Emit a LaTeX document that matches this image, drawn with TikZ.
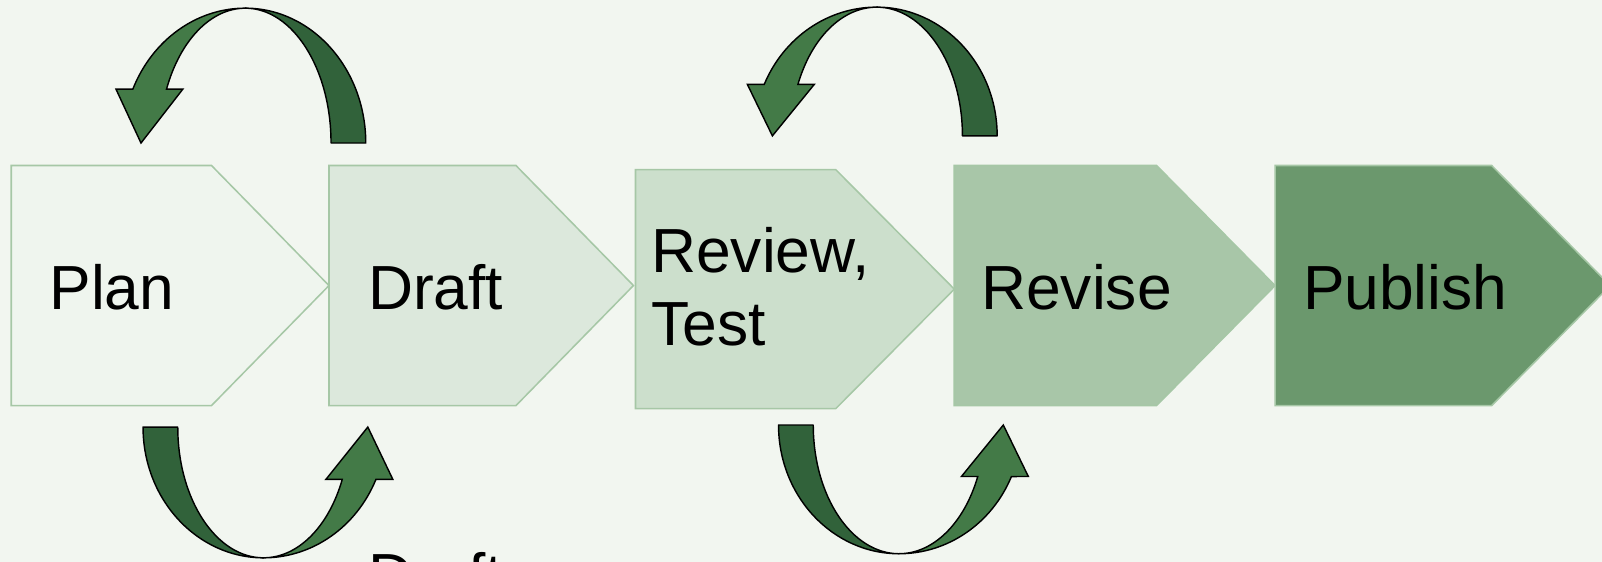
\documentclass[tikz,border=0pt]{standalone}
\usepackage{fontspec}
\setmainfont{Liberation Sans}
\usetikzlibrary{positioning}
\definecolor{pageBg}{HTML}{F2F6F0}
\definecolor{stepEdge}{HTML}{A6C7A6}
\definecolor{planFill}{HTML}{EFF5EE}
\definecolor{draftFill}{HTML}{DCE8DC}
\definecolor{reviewFill}{HTML}{CCDFCC}
\definecolor{reviseFill}{HTML}{A8C6A8}
\definecolor{publishFill}{HTML}{6B986D}
\definecolor{loopDark}{HTML}{31623A}
\definecolor{loopLight}{HTML}{437A47}
\tikzset{
    stepShape/.style={draw=stepEdge, line width=0.75pt, line join=miter},
    stepText/.style={anchor=base west, inner sep=0pt, align=left, font=\fontsize{30.5}{35.5}\selectfont},
    loopBack/.style={draw=black, fill=loopDark, line width=0.7pt, line join=round},
    loopFront/.style={draw=black, fill=loopLight, line width=0.7pt, line join=miter},
}
% chevron: fill, left, shoulder, tip, top, bottom
\newcommand{\drawStep}[6]{
    \draw[stepShape, fill=#1] (#2,#5) -- (#3,#5) -- (#4,{(#5+#6)/2}) -- (#3,#6) -- (#2,#6) -- cycle;
}
% curved loop arrow: centre x, centre y, height, rotation
\newcommand{\drawLoop}[4]{
    \begin{scope}[shift={(#1,#2)}, rotate=#4]
        % tail half
        \draw[loopBack] (0,#3) arc[start angle=90, end angle=0, x radius=118, y radius=#3]
            -- (84,0) arc[start angle=0, end angle=90, x radius=84, y radius=#3] -- cycle;
        % head half
        \draw[loopFront] (0,#3) arc[start angle=90, end angle=156.4, x radius=120, y radius=#3]
            -- (-126.5,{0.4*#3}) -- (-102,0) -- (-61,{0.4*#3}) -- (-77,{0.4*#3})
            arc[start angle=156.4, end angle=90, x radius=84, y radius=#3] -- cycle;
    \end{scope}
}

\begin{document}
\begin{tikzpicture}[x=0.5pt, y=0.5pt]

    \fill[pageBg] (0,0) rectangle (1568,550);
    \useasboundingbox (0,0) rectangle (1568,550);

    \drawStep{planFill}{11}{207}{322}{388}{153}
    \drawStep{draftFill}{322}{505}{620}{388}{153}
    \drawStep{reviewFill}{622}{818}{934}{384}{150}
    \drawStep{reviseFill}{934}{1132}{1248}{388}{153}
    \drawStep{publishFill}{1248}{1460}{1576}{388}{153}

    \node[stepText] (plan) at (48,247) {Plan};
    \node[stepText] (draft) at (360,247) {Draft};
    \node[stepText] (review) at (637,212) {Review,\\Test};
    \node[stepText] (revise) at (960,247) {Revise};
    \node[stepText] (publish) at (1275,247) {Publish};
    \node[stepText] (redraft) at (360,-35) {Draft};

    \drawLoop{240}{410}{132}{0}
    \drawLoop{858}{417}{126}{0}
    \drawLoop{258}{132}{128}{180}
    \drawLoop{880}{134}{126}{180}

\end{tikzpicture}
\end{document}
